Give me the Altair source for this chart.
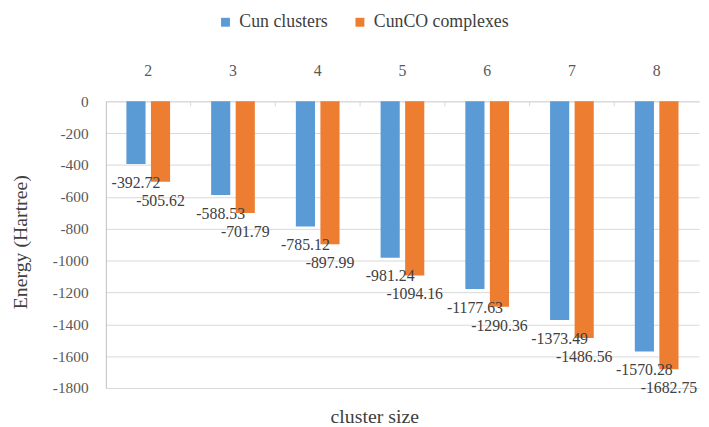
import altair as alt
import pandas as pd

sizes = ["2", "3", "4", "5", "6", "7", "8"]
cun_clusters = [-392.72, -588.53, -785.12, -981.24, -1177.63, -1373.49, -1570.28]
cunco_complexes = [-505.62, -701.79, -897.99, -1094.16, -1290.36, -1486.56, -1682.75]
series_names = ["Cun clusters", "CunCO complexes"]
colors = ["#5B9BD5", "#ED7D31"]
y_ticks = [-1800, -1600, -1400, -1200, -1000, -800, -600, -400, -200, 0]

rows = []
for i, s in enumerate(sizes):
    for name, vals in zip(series_names, [cun_clusters, cunco_complexes]):
        rows.append({"size": s, "series": name, "energy": vals[i], "label": f"{vals[i]:.2f}"})
df = pd.DataFrame(rows)
bounds = pd.DataFrame({"size": sizes[1:]})

FONT = "Liberation Serif"

x_axis = alt.Axis(orient="top", title=None, labelAngle=0, ticks=False, tickSize=0,
                  labelPadding=23, labelFont=FONT, labelFontSize=16, labelColor="#595959",
                  domain=True, domainColor="#d9d9d9", grid=False)
x_scale = alt.Scale(paddingInner=0, paddingOuter=0)
y_axis = alt.Axis(values=y_ticks, title="Energy (Hartree)", ticks=False, tickSize=0,
                  labelPadding=18, labelFont=FONT, labelFontSize=15.5, labelColor="#595959",
                  labelExpr="datum.value + ''", labelOverlap=False, labelBound=False,
                  domain=True, domainColor="#bfbfbf", grid=True, gridColor="#d9d9d9",
                  titleFont=FONT, titleFontSize=20, titleFontWeight="normal", titleColor="#404040",
                  titleX=-86, titleY=142, titleAngle=270, titleAlign="center", titleBaseline="middle")
y_scale = alt.Scale(domain=[-1800, 0], nice=False)

x_enc = alt.X("size:N", sort=sizes, scale=x_scale, axis=x_axis)
xoff = alt.XOffset("series:N", sort=series_names,
                   scale=alt.Scale(paddingInner=0.22, paddingOuter=0.836))
y_enc = alt.Y("energy:Q", scale=y_scale, axis=y_axis)
color_enc = alt.Color(
    "series:N", sort=series_names,
    scale=alt.Scale(domain=series_names, range=colors),
    legend=alt.Legend(orient="none", legendX=112, legendY=-89, direction="horizontal", title=None,
                      symbolType="square", symbolSize=81, symbolStrokeWidth=0,
                      labelFont=FONT, labelFontSize=18, labelColor="#404040",
                      labelOffset=5, columnPadding=23),
)

bars = alt.Chart(df).mark_bar().encode(x=x_enc, xOffset=xoff, y=y_enc, color=color_enc)
labels = alt.Chart(df).mark_text(dy=19, font=FONT, fontSize=16, color="#404040", baseline="middle").encode(
    x=x_enc, xOffset=xoff, y=y_enc, text="label:N")
ticks = alt.Chart(bounds).mark_rule(color="#d9d9d9", strokeWidth=1).encode(
    x=alt.X("size:N", sort=sizes, bandPosition=0, scale=x_scale, axis=x_axis),
    y=alt.value(0), y2=alt.value(5))

chart = alt.layer(bars, ticks, labels).properties(
    width=600, height=290,
    autosize=alt.AutoSizeParams(type="none"),
    padding={"left": 99, "top": 92, "right": 2, "bottom": 37},
    title=alt.TitleParams("cluster size", orient="bottom", anchor="middle", font=FONT, fontSize=20,
                          fontWeight="normal", color="#404040", offset=11, dx=-28),
).configure(background="white", font=FONT).configure_view(stroke=None).configure_axis(
    labelFont=FONT, titleFont=FONT).configure_text(font=FONT).configure_legend(labelFont=FONT)

chart.save("out.html", embed_options={"renderer": "svg", "actions": False})
